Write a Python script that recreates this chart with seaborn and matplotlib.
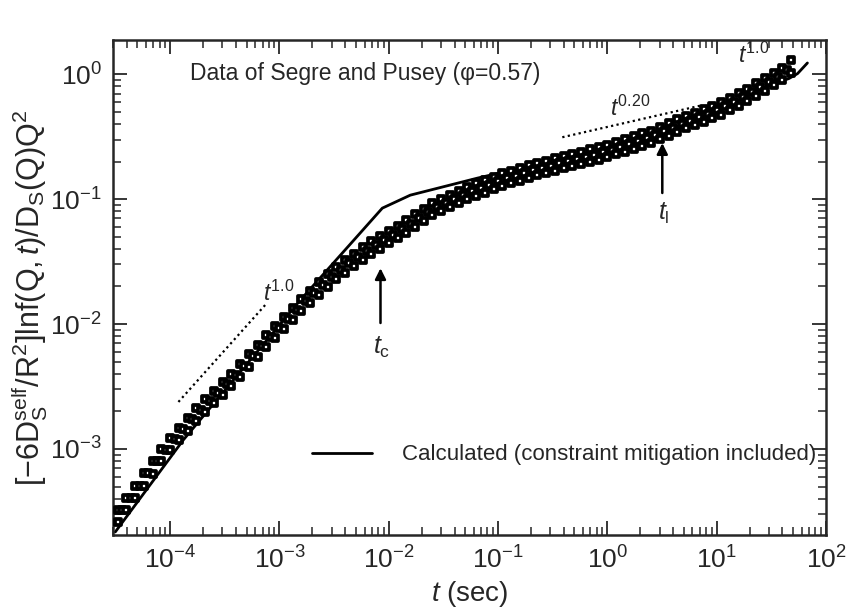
import numpy as np
import pandas as pd
import matplotlib
matplotlib.use("Agg")
import matplotlib.pyplot as plt
from matplotlib.lines import Line2D
import seaborn as sns

# ---------------- data (log10 units) ----------------
log10_t = [-4.48, -4.40, -4.32, -4.24, -4.16, -4.08, -4.00, -3.92, -3.84, -3.76,
           -3.68, -3.60, -3.52, -3.44, -3.36, -3.28, -3.20, -3.12, -3.04, -2.96,
           -2.88, -2.80, -2.72, -2.64, -2.56, -2.48, -2.40, -2.32, -2.24, -2.16,
           -2.08, -2.00, -1.92, -1.84, -1.76, -1.68, -1.60, -1.52, -1.44, -1.36,
           -1.28, -1.20, -1.12, -1.04, -0.96, -0.88, -0.80, -0.72, -0.64, -0.56,
           -0.48, -0.40, -0.32, -0.24, -0.16, -0.08, 0.00, 0.08, 0.16, 0.24,
           0.32, 0.40, 0.48, 0.56, 0.64, 0.72, 0.80, 0.88, 0.96, 1.04,
           1.12, 1.20, 1.28, 1.36, 1.44, 1.52, 1.60, 1.68]

log10_y_upper = [-3.488, -3.390, -3.293, -3.195, -3.097, -3.000, -2.909, -2.830, -2.752, -2.673,
                 -2.601, -2.533, -2.465, -2.397, -2.321, -2.243, -2.165, -2.087, -2.014, -1.942,
                 -1.870, -1.799, -1.733, -1.667, -1.602, -1.541, -1.489, -1.438, -1.386, -1.339,
                 -1.297, -1.255, -1.214, -1.169, -1.122, -1.076, -1.029, -0.997, -0.965, -0.933,
                 -0.902, -0.874, -0.847, -0.819, -0.793, -0.772, -0.751, -0.729, -0.709, -0.691,
                 -0.672, -0.654, -0.636, -0.619, -0.602, -0.585, -0.564, -0.542, -0.519, -0.497,
                 -0.474, -0.451, -0.422, -0.392, -0.362, -0.334, -0.307, -0.280, -0.253, -0.223,
                 -0.187, -0.151, -0.115, -0.074, -0.032, 0.010, 0.053, 0.111]

log10_y_lower = [-3.588, -3.490, -3.393, -3.295, -3.197, -3.100, -3.009, -2.930, -2.852, -2.773,
                 -2.701, -2.633, -2.565, -2.497, -2.421, -2.343, -2.265, -2.187, -2.114, -2.042,
                 -1.970, -1.899, -1.833, -1.767, -1.702, -1.641, -1.589, -1.538, -1.486, -1.439,
                 -1.397, -1.355, -1.314, -1.269, -1.222, -1.176, -1.129, -1.097, -1.065, -1.033,
                 -1.002, -0.974, -0.947, -0.919, -0.893, -0.872, -0.851, -0.829, -0.809, -0.791,
                 -0.772, -0.754, -0.736, -0.719, -0.702, -0.685, -0.664, -0.642, -0.619, -0.597,
                 -0.574, -0.551, -0.522, -0.492, -0.462, -0.434, -0.407, -0.380, -0.353, -0.323,
                 -0.287, -0.251, -0.215, -0.174, -0.132, -0.090, -0.047, 0.011]

log10_t_mid = [-4.44, -4.36, -4.28, -4.20, -4.12, -4.04, -3.96, -3.88, -3.80, -3.72,
               -3.64, -3.56, -3.48, -3.40, -3.32, -3.24, -3.16, -3.08, -3.00, -2.92,
               -2.84, -2.76, -2.68, -2.60, -2.52, -2.44, -2.36, -2.28, -2.20, -2.12,
               -2.04, -1.96, -1.88, -1.80, -1.72, -1.64, -1.56, -1.48, -1.40, -1.32,
               -1.24, -1.16, -1.08, -1.00, -0.92, -0.84, -0.76, -0.68, -0.60, -0.52,
               -0.44, -0.36, -0.28, -0.20, -0.12, -0.04, 0.04, 0.12, 0.20, 0.28,
               0.36, 0.44, 0.52, 0.60, 0.68, 0.76, 0.84, 0.92, 1.00, 1.08,
               1.16, 1.24, 1.32, 1.40, 1.48, 1.56, 1.64]

log10_y_mid = [-3.489, -3.392, -3.294, -3.196, -3.099, -3.005, -2.920, -2.841, -2.763, -2.687,
               -2.617, -2.549, -2.481, -2.409, -2.332, -2.254, -2.176, -2.101, -2.028, -1.956,
               -1.885, -1.816, -1.750, -1.685, -1.622, -1.565, -1.514, -1.462, -1.413, -1.368,
               -1.326, -1.285, -1.242, -1.196, -1.149, -1.103, -1.063, -1.031, -0.999, -0.968,
               -0.938, -0.911, -0.883, -0.856, -0.833, -0.812, -0.790, -0.769, -0.750, -0.732,
               -0.713, -0.695, -0.678, -0.661, -0.644, -0.625, -0.603, -0.581, -0.558, -0.536,
               -0.513, -0.487, -0.457, -0.427, -0.398, -0.371, -0.344, -0.317, -0.288, -0.255,
               -0.219, -0.183, -0.145, -0.103, -0.061, -0.019, 0.032]

# calculated curve (constraint mitigation included)
log10_t_calc = [-4.502, -3.880, -2.809, -2.352, -2.059, -1.803, -1.190, -0.796, -0.366,
                0.000, 0.400, 0.720, 1.040, 1.300, 1.520, 1.660, 1.740, 1.830]
log10_y_calc = [-3.664, -2.928, -1.808, -1.360, -1.072, -0.968, -0.832, -0.752, -0.690,
                -0.620, -0.505, -0.392, -0.282, -0.165, -0.075, -0.035, 0.005, 0.090]

# guide power laws (end points)
guide1_t = [1.19e-4, 7.4e-4]
guide1_y = [2.38e-3, 1.42e-2]
guide2_t = [0.387, 7.4]
guide2_y = [0.313, 0.565]

x_ticks = [1e-4, 1e-3, 1e-2, 1e-1, 1e0, 1e1, 1e2]
y_ticks = [1e-3, 1e-2, 1e-1, 1e0]

# ---------------- style ----------------
sns.set_style("ticks")
plt.rcParams["font.family"] = ["Liberation Sans", "DejaVu Sans"]
plt.rcParams["mathtext.fontset"] = "custom"
plt.rcParams["mathtext.rm"] = "Liberation Sans"
plt.rcParams["mathtext.it"] = "Liberation Sans:italic"
plt.rcParams["mathtext.sf"] = "Liberation Sans"
plt.rcParams["mathtext.bf"] = "Liberation Sans:bold"

fig = plt.figure(figsize=(8.49, 6.10), dpi=100)
ax = fig.add_axes([0.1331, 0.123, 0.8398, 0.811])

n_a = len(log10_t)
n_m = len(log10_t_mid)
df = pd.DataFrame({
    "t": 10 ** np.concatenate([log10_t, log10_t_mid, log10_t]),
    "y": 10 ** np.concatenate([log10_y_upper, log10_y_mid, log10_y_lower]),
    "set": ["upper"] * n_a + ["mid"] * n_m + ["lower"] * n_a,
}).sort_values("t", kind="stable")

calc = pd.DataFrame({"t": 10 ** np.array(log10_t_calc), "y": 10 ** np.array(log10_y_calc)})

sns.lineplot(data=calc, x="t", y="y", sort=False, estimator=None, color="black",
             lw=2.0, ax=ax, zorder=2)
sns.scatterplot(data=df, x="t", y="y", marker="s", s=22, color="white",
                edgecolor="black", linewidth=2.7, ax=ax, legend=False, zorder=3)

dot = (0, (1, 1.5))
sns.lineplot(x=guide1_t, y=guide1_y, color="black", lw=1.6, linestyle=dot, ax=ax)
sns.lineplot(x=guide2_t, y=guide2_y, color="black", lw=1.6, linestyle=dot, ax=ax)

ax.set_xscale("log")
ax.set_yscale("log")
ax.set_xlim(3.0e-5, 1e2)
ax.set_ylim(2.05e-4, 1.87)
ax.set_xticks(x_ticks)
ax.set_yticks(y_ticks)

ax.tick_params(which="both", direction="in", top=True, right=True, labelsize=19)
ax.tick_params(which="major", length=10, width=1.3, pad=8)
ax.tick_params(which="minor", length=6, width=1.1)
for s in ax.spines.values():
    s.set_linewidth(1.8)

ax.set_xlabel(r"$\mathit{t}$ (sec)", fontsize=20, labelpad=4)
ax.set_ylabel(r"$\mathrm{[-6D_S^{self}/R^2]lnf(Q,}\mathit{t}\mathrm{)/D_S(Q)Q^2}$",
              fontsize=22)
ax.yaxis.set_label_coords(-0.088, 0.48)

# annotations
ax.text(0.108, 0.933, "Data of Segre and Pusey (\u03c6=0.57)", transform=ax.transAxes,
        fontsize=16.5, va="center", ha="left")
ax.text(7.1e-4, 1.77e-2, r"$\mathit{t}^{\mathrm{1.0}}$", fontsize=16.5, ha="left", va="center")
ax.text(1.06, 0.535, r"$\mathit{t}^{\mathrm{0.20}}$", fontsize=16.5, ha="left", va="center")
ax.text(15.8, 1.42, r"$\mathit{t}^{\mathrm{1.0}}$", fontsize=16.5, ha="left", va="center")

arrow = dict(arrowstyle="-|>", lw=1.8, color="black", mutation_scale=16, shrinkA=0, shrinkB=0)
ax.annotate("", xy=(8.4e-3, 0.028), xytext=(8.4e-3, 0.0102), arrowprops=arrow)
ax.text(8.6e-3, 6.5e-3, r"$\mathit{t}_\mathrm{c}$", fontsize=18, ha="center", va="center")
ax.annotate("", xy=(3.18, 0.281), xytext=(3.18, 0.112), arrowprops=arrow)
ax.text(3.25, 0.077, r"$\mathit{t}_\mathrm{l}$", fontsize=18, ha="center", va="center")

ax.legend(handles=[Line2D([], [], color="black", lw=2.0)],
          labels=["Calculated (constraint mitigation included)"],
          loc="center right", bbox_to_anchor=(0.986, 0.162), frameon=False,
          fontsize=16, handlelength=2.7, handletextpad=1.35, borderpad=0, borderaxespad=0)

fig.savefig("out.png", dpi=100)
